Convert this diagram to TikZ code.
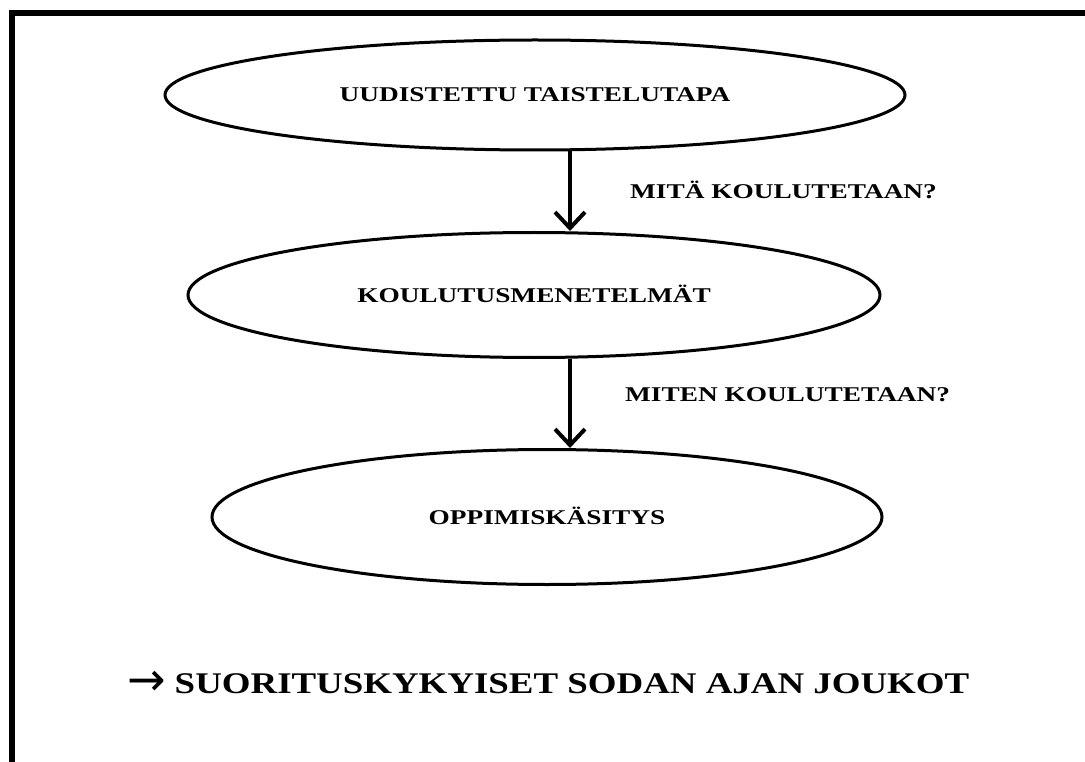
\documentclass[tikz,border=0pt]{standalone}
\usepackage{fontspec}
\setmainfont{Liberation Serif}
\newfontfamily\ovalfont[FakeStretch=1.3]{Liberation Serif}
\newfontfamily\tailfont[FakeStretch=1.23]{Liberation Serif}
\newfontfamily\symfont{DejaVu Sans}
\usetikzlibrary{shapes.geometric}
\usetikzlibrary{arrows.meta}

\begin{document}
\begin{tikzpicture}[x=1pt,y=-1pt,
    oval/.style={ellipse, draw, line width=3pt, inner sep=0pt,
      text height=14pt, text depth=0pt,
      font=\ovalfont\bfseries\fontsize{21}{24}\selectfont},
    flow/.style={line width=4pt, -{Straight Barb[length=16pt,width=30pt]}},
    question/.style={anchor=west, inner sep=0pt,
      font=\ovalfont\bfseries\fontsize{21}{24}\selectfont}]
                \useasboundingbox (0,0) rectangle (1085,762);
                \draw[line width=6pt] (12,762) -- (12,13.5) -- (1085,13.5);
                \node[oval, minimum width=740pt, minimum height=110pt] (taistelu) at (535,95) {UUDISTETTU TAISTELUTAPA};
                \node[oval, minimum width=692pt, minimum height=125pt] (menetelmat) at (534,295) {KOULUTUSMENETELMÄT};
                \node[oval, minimum width=670pt, minimum height=135pt] (kasitys) at (547,517) {OPPIMISKÄSITYS};
                \coordinate (flowx) at (570,0);
                \draw[flow] (taistelu.south -| flowx) -- (menetelmat.north -| flowx);
                \draw[flow] (menetelmat.south -| flowx) -- (kasitys.north -| flowx);
                \node[question] (mita) at (630,190) {MITÄ KOULUTETAAN?};
                \node[question] (miten) at (625,395) {MITEN KOULUTETAAN?};
                \node[anchor=base west, inner sep=0pt, font=\tailfont\bfseries\fontsize{30}{34}\selectfont] (joukot) at (127,693)
                    {{\symfont\mdseries\fontsize{46}{48}\selectfont\raisebox{-2pt}{→}}\hspace{9pt}SUORITUSKYKYISET SODAN AJAN JOUKOT};
            \end{tikzpicture}
\end{document}
